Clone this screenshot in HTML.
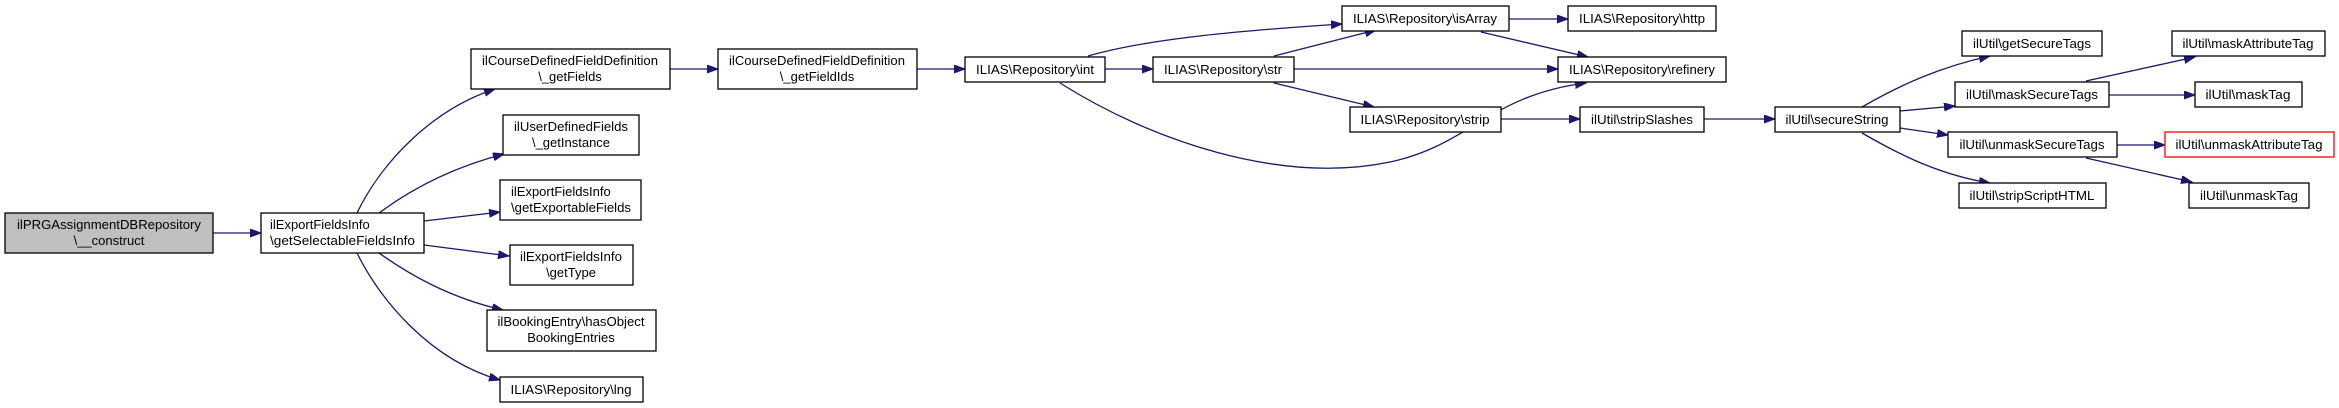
<!DOCTYPE html>
<html><head><meta charset="utf-8"><style>
html,body{margin:0;padding:0;background:#fff;}
svg{display:block;}
text{font-family:"Liberation Sans",sans-serif;font-size:13px;fill:#000;}
.b{fill:#fff;stroke:#000;stroke-width:1.3;}
.e{fill:none;stroke:#191970;stroke-width:1.3;}
</style></head><body>
<svg width="2339" height="408" viewBox="0 0 2339 408" xmlns="http://www.w3.org/2000/svg">
<defs><marker id="a" markerUnits="userSpaceOnUse" markerWidth="12" markerHeight="10" refX="11" refY="4" orient="auto"><path d="M0,0 L11,4 L0,8 z" fill="#191970" stroke="#191970"/></marker></defs>
<g marker-end="url(#a)">
<path class="e" d="M213,233 L261,233"/>
<path class="e" d="M357,213 C380,165 430,110 495,89"/>
<path class="e" d="M379,213 C410,190 450,168 504,154"/>
<path class="e" d="M424,221 L500,212"/>
<path class="e" d="M424,245 L509,256"/>
<path class="e" d="M379,253 C410,275 450,298 503,310"/>
<path class="e" d="M357,253 C380,300 430,360 500,380"/>
<path class="e" d="M670,69 L718,69"/>
<path class="e" d="M917,69 L965,69"/>
<path class="e" d="M1105,69 L1153,69"/>
<path class="e" d="M1088,56 C1150,38 1250,30 1342,24"/>
<path class="e" d="M1060,83 C1150,140 1280,185 1390,162 C1470,145 1490,95 1586,83"/>
<path class="e" d="M1274,56 L1376,30"/>
<path class="e" d="M1294,69 L1558,69"/>
<path class="e" d="M1274,83 L1374,107"/>
<path class="e" d="M1509,19 L1568,19"/>
<path class="e" d="M1481,32 L1588,57"/>
<path class="e" d="M1501,119 L1580,119"/>
<path class="e" d="M1704,119 L1775,119"/>
<path class="e" d="M1862,107 C1900,85 1940,67 1990,56"/>
<path class="e" d="M1900,111 L1955,106"/>
<path class="e" d="M1900,128 L1948,135"/>
<path class="e" d="M1862,133 C1900,155 1940,175 1990,183"/>
<path class="e" d="M2086,81 L2195,57"/>
<path class="e" d="M2109,95 L2195,95"/>
<path class="e" d="M2117,145 L2165,145"/>
<path class="e" d="M2086,158 L2192,182"/>
</g>
<rect x="5" y="213" width="208" height="40" fill="#bfbfbf" stroke="#000" stroke-width="1.3"/>
<text x="109" y="229" text-anchor="middle" textLength="184" lengthAdjust="spacingAndGlyphs">ilPRGAssignmentDBRepository</text>
<text x="109" y="245" text-anchor="middle">\__construct</text>
<rect class="b" x="261" y="213" width="163" height="40"/>
<text x="270" y="229">ilExportFieldsInfo</text>
<text x="270" y="245" textLength="145" lengthAdjust="spacingAndGlyphs">\getSelectableFieldsInfo</text>
<rect class="b" x="471" y="49" width="199" height="40"/>
<text x="570" y="65" text-anchor="middle" textLength="176" lengthAdjust="spacingAndGlyphs">ilCourseDefinedFieldDefinition</text>
<text x="570" y="81" text-anchor="middle">\_getFields</text>
<rect class="b" x="503" y="115" width="136" height="40"/>
<text x="571" y="131" text-anchor="middle" textLength="114" lengthAdjust="spacingAndGlyphs">ilUserDefinedFields</text>
<text x="571" y="147" text-anchor="middle">\_getInstance</text>
<rect class="b" x="500" y="180" width="141" height="40"/>
<text x="511" y="196">ilExportFieldsInfo</text>
<text x="511" y="212" textLength="120" lengthAdjust="spacingAndGlyphs">\getExportableFields</text>
<rect class="b" x="510" y="245" width="123" height="40"/>
<text x="571" y="261" text-anchor="middle" textLength="102" lengthAdjust="spacingAndGlyphs">ilExportFieldsInfo</text>
<text x="571" y="277" text-anchor="middle">\getType</text>
<rect class="b" x="487" y="310" width="169" height="41"/>
<text x="571" y="326" text-anchor="middle" textLength="147" lengthAdjust="spacingAndGlyphs">ilBookingEntry\hasObject</text>
<text x="571" y="342" text-anchor="middle">BookingEntries</text>
<rect class="b" x="500" y="377" width="143" height="25"/>
<text x="571" y="394" text-anchor="middle" textLength="121" lengthAdjust="spacingAndGlyphs">ILIAS\Repository\lng</text>
<rect class="b" x="718" y="49" width="199" height="40"/>
<text x="817" y="65" text-anchor="middle" textLength="176" lengthAdjust="spacingAndGlyphs">ilCourseDefinedFieldDefinition</text>
<text x="817" y="81" text-anchor="middle">\_getFieldIds</text>
<rect class="b" x="965" y="57" width="140" height="25"/>
<text x="1035" y="74" text-anchor="middle" textLength="118" lengthAdjust="spacingAndGlyphs">ILIAS\Repository\int</text>
<rect class="b" x="1153" y="57" width="141" height="25"/>
<text x="1223" y="74" text-anchor="middle" textLength="118" lengthAdjust="spacingAndGlyphs">ILIAS\Repository\str</text>
<rect class="b" x="1342" y="6" width="167" height="25"/>
<text x="1425" y="23" text-anchor="middle" textLength="144" lengthAdjust="spacingAndGlyphs">ILIAS\Repository\isArray</text>
<rect class="b" x="1350" y="107" width="151" height="25"/>
<text x="1425" y="124" text-anchor="middle" textLength="129" lengthAdjust="spacingAndGlyphs">ILIAS\Repository\strip</text>
<rect class="b" x="1568" y="6" width="148" height="25"/>
<text x="1642" y="23" text-anchor="middle" textLength="126" lengthAdjust="spacingAndGlyphs">ILIAS\Repository\http</text>
<rect class="b" x="1558" y="57" width="168" height="25"/>
<text x="1642" y="74" text-anchor="middle" textLength="146" lengthAdjust="spacingAndGlyphs">ILIAS\Repository\refinery</text>
<rect class="b" x="1580" y="107" width="124" height="25"/>
<text x="1642" y="124" text-anchor="middle" textLength="102" lengthAdjust="spacingAndGlyphs">ilUtil\stripSlashes</text>
<rect class="b" x="1775" y="107" width="125" height="25"/>
<text x="1837" y="124" text-anchor="middle" textLength="103" lengthAdjust="spacingAndGlyphs">ilUtil\secureString</text>
<rect class="b" x="1962" y="31" width="140" height="25"/>
<text x="2032" y="48" text-anchor="middle" textLength="118" lengthAdjust="spacingAndGlyphs">ilUtil\getSecureTags</text>
<rect class="b" x="1955" y="82" width="154" height="25"/>
<text x="2032" y="99" text-anchor="middle" textLength="132" lengthAdjust="spacingAndGlyphs">ilUtil\maskSecureTags</text>
<rect class="b" x="1948" y="132" width="169" height="25"/>
<text x="2032" y="149" text-anchor="middle" textLength="145" lengthAdjust="spacingAndGlyphs">ilUtil\unmaskSecureTags</text>
<rect class="b" x="1959" y="183" width="147" height="25"/>
<text x="2032" y="200" text-anchor="middle" textLength="125" lengthAdjust="spacingAndGlyphs">ilUtil\stripScriptHTML</text>
<rect class="b" x="2172" y="31" width="153" height="25"/>
<text x="2248" y="48" text-anchor="middle" textLength="131" lengthAdjust="spacingAndGlyphs">ilUtil\maskAttributeTag</text>
<rect class="b" x="2195" y="82" width="107" height="25"/>
<text x="2248" y="99" text-anchor="middle" textLength="85" lengthAdjust="spacingAndGlyphs">ilUtil\maskTag</text>
<rect x="2165" y="132" width="169" height="25" fill="#fff" stroke="#ff0000" stroke-width="1.3"/>
<text x="2249" y="149" text-anchor="middle" textLength="147" lengthAdjust="spacingAndGlyphs">ilUtil\unmaskAttributeTag</text>
<rect class="b" x="2189" y="183" width="120" height="25"/>
<text x="2249" y="200" text-anchor="middle" textLength="98" lengthAdjust="spacingAndGlyphs">ilUtil\unmaskTag</text>
</svg>
</body></html>
